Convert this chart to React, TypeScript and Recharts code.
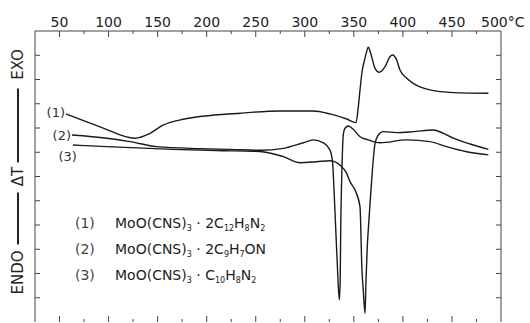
import React from "react";
import { LineChart, Line, XAxis, YAxis } from "recharts";

// temperature axis (°C), minor ticks every 25
const X_TICKS = [50, 75, 100, 125, 150, 175, 200, 225, 250, 275, 300, 325, 350, 375, 400, 425, 450, 475, 500];
const Y_TICKS = [1, 2, 3, 4, 5, 6, 7, 8, 9, 10, 11];

// curve (1) MoO(CNS)3 · 2C12H8N2
const T1 = [56.6, 91.3, 126.9, 142.2, 155.5, 175.9, 234, 274.7, 308.4, 325.7, 342.7, 352.2, 354.2, 356.3, 358.3, 360.9, 362.9, 364.7, 367.2, 371.6, 375.9, 381.8, 386.8, 389.6, 393.7, 397, 403.9, 410.6, 427.6, 451.4, 487.1];
const DT1 = [8.58, 8.05, 7.58, 7.78, 8.12, 8.36, 8.61, 8.7, 8.7, 8.58, 8.37, 8.22, 8.74, 9.57, 10.31, 10.8, 11.13, 11.33, 11.08, 10.46, 10.3, 10.53, 10.94, 11.01, 10.8, 10.39, 10.05, 9.84, 9.57, 9.46, 9.43];

// curve (2) MoO(CNS)3 · 2C9H7ON
const T2 = [62.7, 98.1, 121.8, 149.0, 193.2, 223.8, 254.3, 278.1, 298.5, 308.7, 318.9, 325.7, 328.4, 329.8, 331.3, 333.1, 335.2, 336.1, 336.6, 337.6, 339.3, 341.0, 344.4, 349.4, 356.3, 364.7, 376.7, 403.9, 427.6, 444.6, 465.0, 487.1];
const DT2 = [7.71, 7.58, 7.44, 7.23, 7.15, 7.12, 7.08, 7.16, 7.39, 7.51, 7.39, 7.09, 6.54, 5.44, 4.07, 2.42, 0.91, 1.73, 3.79, 5.86, 7.75, 7.99, 8.08, 7.95, 7.64, 7.51, 7.39, 7.51, 7.44, 7.23, 7.02, 6.89];

// curve (3) MoO(CNS)3 · C10H8N2
const T3 = [63.7, 98.1, 166.0, 210.2, 254.3, 278.1, 295.1, 312.1, 325.7, 335.9, 342.7, 346.1, 351.2, 356.3, 357.3, 358.0, 359.6, 361.4, 362.4, 363.7, 364.7, 366.5, 368.2, 369.2, 371.6, 374.9, 380.0, 393.7, 410.6, 431.0, 441.2, 451.4, 468.4, 487.1];
const DT3 = [7.3, 7.23, 7.12, 7.07, 7.03, 6.82, 6.57, 6.61, 6.65, 6.47, 6.13, 5.79, 5.44, 4.75, 3.52, 2.42, 1.32, 0.36, 1.73, 3.11, 3.79, 4.89, 5.86, 6.4, 7.37, 7.71, 7.85, 7.81, 7.85, 7.92, 7.78, 7.58, 7.34, 7.12];

const CURVE_TAGS = ["(1)", "(2)", "(3)"];

const rows = (t: number[], d: number[]) => t.map((x, i) => ({ t: x, dt: d[i] }));
const data1 = rows(T1, DT1);
const data2 = rows(T2, DT2);
const data3 = rows(T3, DT3);

const FONT = "'DejaVu Sans', sans-serif";
const INK = "#1a1a1a";
const FRAME = "#444";

function TopTick(props: any) {
  const { x, y, payload } = props;
  const v = payload.value;
  if (v === 500) {
    return (
      <text x={x - 20} y={y - 4} fontSize={14} fontFamily={FONT} fill="#222">500°C</text>
    );
  }
  const major = v % 50 === 0;
  return (
    <g>
      <line x1={x} x2={x} y1={y} y2={y + (major ? 6 : 3)} stroke={FRAME} />
      {major && (
        <text x={x} y={y - 4} textAnchor="middle" fontSize={14} fontFamily={FONT} fill="#222">{v}</text>
      )}
    </g>
  );
}

function BottomTick(props: any) {
  const { x, y, payload } = props;
  if (payload.value === 500) return <g />;
  const major = payload.value % 50 === 0;
  return <line x1={x} x2={x} y1={y} y2={y - (major ? 6 : 3)} stroke={FRAME} />;
}

function LeftTick(props: any) {
  const { x, y } = props;
  return <line x1={x} x2={x + 5} y1={y} y2={y} stroke={FRAME} />;
}

function RightTick(props: any) {
  const { x, y } = props;
  return <line x1={x} x2={x - 5} y1={y} y2={y} stroke={FRAME} />;
}

function AxisTitle(props: any) {
  const vb = props.viewBox || { x: 0, y: 31, width: 35, height: 291 };
  const cx = 18;
  const cy = vb.y + vb.height / 2;
  const txt = (s: string, yy: number) => (
    <text
      x={cx}
      y={yy}
      transform={`rotate(-90, ${cx}, ${yy})`}
      textAnchor="middle"
      dominantBaseline="central"
      fontSize={15}
      fontFamily={FONT}
      fill="#222"
    >
      {s}
    </text>
  );
  return (
    <g>
      {txt("EXO", cy - 112)}
      <line x1={cx} x2={cx} y1={cy - 88} y2={cy - 14} stroke="#222" strokeWidth={2} />
      {txt("ΔT", cy)}
      <line x1={cx} x2={cx} y1={cy + 16} y2={cy + 68} stroke="#222" strokeWidth={2} />
      {txt("ENDO", cy + 96)}
    </g>
  );
}

const tagLabel = (tag: string, dx: number, dy: number) => (props: any) => {
  if (props.index !== 0) return <g />;
  const px = props.x ?? props.viewBox?.x;
  const py = props.y ?? props.viewBox?.y;
  return (
    <text x={px + dx} y={py + dy} textAnchor="end" dominantBaseline="central" fontSize={13} fontFamily={FONT} fill="#333">
      {tag}
    </text>
  );
};

const LEGEND = [
  { tag: "(1)", parts: ["MoO(CNS)", "3", " · 2C", "12", "H", "8", "N", "2"] },
  { tag: "(2)", parts: ["MoO(CNS)", "3", " · 2C", "9", "H", "7", "ON", ""] },
  { tag: "(3)", parts: ["MoO(CNS)", "3", " · C", "10", "H", "8", "N", "2"] },
];

function Formula({ parts }: { parts: string[] }) {
  return (
    <span>
      {parts.map((p, i) =>
        i % 2 === 0 ? (
          <span key={i}>{p}</span>
        ) : (
          <sub key={i} style={{ fontSize: 8, verticalAlign: "-3px" }}>{p}</sub>
        )
      )}
    </span>
  );
}

export default function App() {
  return (
    <div style={{ position: "absolute", left: 0, top: 0, width: 530, height: 323, background: "#fff" }}>
      <LineChart width={530} height={323} margin={{ top: 0, right: 28, bottom: 0, left: 0 }}>
        <XAxis
          xAxisId="top"
          orientation="top"
          type="number"
          dataKey="t"
          domain={[25, 500]}
          allowDataOverflow
          ticks={X_TICKS}
          interval={0}
          height={31}
          tickSize={0}
          tickMargin={0}
          tickLine={false}
          axisLine={{ stroke: FRAME }}
          tick={<TopTick />}
        />
        <XAxis
          xAxisId="bottom"
          orientation="bottom"
          type="number"
          dataKey="t"
          domain={[25, 500]}
          allowDataOverflow
          ticks={X_TICKS}
          interval={0}
          height={1}
          tickSize={0}
          tickMargin={0}
          tickLine={false}
          axisLine={false}
          tick={<BottomTick />}
        />
        <YAxis
          yAxisId="left"
          type="number"
          domain={[0, 12]}
          allowDataOverflow
          ticks={Y_TICKS}
          interval={0}
          width={35}
          tickSize={0}
          tickMargin={0}
          tickLine={false}
          axisLine={{ stroke: FRAME }}
          tick={<LeftTick />}
          label={<AxisTitle />}
        />
        <YAxis
          yAxisId="right"
          orientation="right"
          type="number"
          domain={[0, 12]}
          allowDataOverflow
          ticks={Y_TICKS}
          interval={0}
          width={1}
          tickSize={0}
          tickMargin={0}
          tickLine={false}
          axisLine={{ stroke: FRAME }}
          tick={<RightTick />}
        />
        <Line data={data1} xAxisId="top" yAxisId="left" dataKey="dt" type="monotone" stroke={INK} strokeWidth={1.4} dot={false} activeDot={false} isAnimationActive={false} label={tagLabel(CURVE_TAGS[0], -1, -1)} />
        <Line data={data2} xAxisId="top" yAxisId="left" dataKey="dt" type="monotone" stroke={INK} strokeWidth={1.4} dot={false} activeDot={false} isAnimationActive={false} label={tagLabel(CURVE_TAGS[1], -1, 0)} />
        <Line data={data3} xAxisId="top" yAxisId="left" dataKey="dt" type="monotone" stroke={INK} strokeWidth={1.4} dot={false} activeDot={false} isAnimationActive={false} label={tagLabel(CURVE_TAGS[2], 4, 12)} />
      </LineChart>
      <div style={{ position: "absolute", left: 75, top: 210, fontFamily: FONT, fontSize: 14, color: "#222", lineHeight: "26px" }}>
        {LEGEND.map((row) => (
          <div key={row.tag} style={{ display: "flex", height: 26 }}>
            <span style={{ width: 40, color: "#444" }}>{row.tag}</span>
            <Formula parts={row.parts} />
          </div>
        ))}
      </div>
    </div>
  );
}
